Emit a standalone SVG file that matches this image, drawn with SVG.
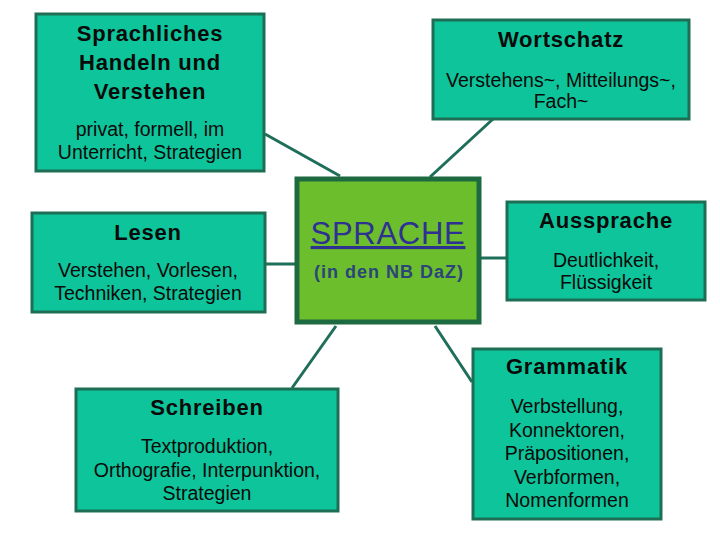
<svg xmlns="http://www.w3.org/2000/svg" width="720" height="540" viewBox="0 0 720 540">
<style>
.box{fill:#0ec49a;stroke:#1e6e55;stroke-width:3}
.center{fill:#6cbe2c;stroke:#1e6a40;stroke-width:5}
.t{font-family:"Liberation Sans",Arial,sans-serif;font-weight:bold;font-size:22px;letter-spacing:0.8px;fill:#0a0a0a;text-anchor:middle}
.s{font-family:"Liberation Sans",Arial,sans-serif;font-size:19.5px;fill:#0a0a0a;text-anchor:middle}
.conn line{stroke:#1e6e5a;stroke-width:3}
</style>
<rect width="720" height="540" fill="#fff"/>
<g id="connectors" class="conn">
<line x1="265" y1="134" x2="340" y2="176"/>
<line x1="493" y1="119" x2="430" y2="177"/>
<line x1="265" y1="264" x2="295" y2="264"/>
<line x1="481" y1="258" x2="507" y2="258"/>
<line x1="336" y1="326" x2="292" y2="388"/>
<line x1="435" y1="326" x2="472" y2="382"/>
</g>
<g id="sprachliches">
<rect class="box" x="36" y="14" width="228" height="157"/>
<text class="t" x="150" y="41">Sprachliches</text>
<text class="t" x="150" y="70">Handeln und</text>
<text class="t" x="150" y="99">Verstehen</text>
<text class="s" x="150" y="136">privat, formell, im</text>
<text class="s" x="150" y="159">Unterricht, Strategien</text>
</g>
<g id="wortschatz">
<rect class="box" x="433" y="20" width="256" height="99"/>
<text class="t" x="561" y="47">Wortschatz</text>
<text class="s" x="561" y="87">Verstehens~, Mitteilungs~,</text>
<text class="s" x="561" y="108">Fach~</text>
</g>
<g id="sprache">
<rect class="center" x="297" y="179" width="182" height="143"/>
<text x="388" y="244" font-family="Liberation Sans,Arial,sans-serif" font-size="31" letter-spacing="0.7" fill="#2e3192" text-anchor="middle" text-decoration="underline">SPRACHE</text>
<text x="389" y="278" font-family="Liberation Sans,Arial,sans-serif" font-weight="bold" font-size="18" letter-spacing="1" fill="#2b457a" text-anchor="middle">(in den NB DaZ)</text>
</g>
<g id="lesen">
<rect class="box" x="32" y="213" width="233" height="99"/>
<text class="t" x="148" y="240">Lesen</text>
<text class="s" x="148" y="277">Verstehen, Vorlesen,</text>
<text class="s" x="148" y="300">Techniken, Strategien</text>
</g>
<g id="aussprache">
<rect class="box" x="507" y="202" width="198" height="98"/>
<text class="t" x="606" y="228">Aussprache</text>
<text class="s" x="606" y="267">Deutlichkeit,</text>
<text class="s" x="606" y="289">Flüssigkeit</text>
</g>
<g id="schreiben">
<rect class="box" x="76" y="389" width="262" height="122"/>
<text class="t" x="207" y="415">Schreiben</text>
<text class="s" x="207" y="453">Textproduktion,</text>
<text class="s" x="207" y="477">Orthografie, Interpunktion,</text>
<text class="s" x="207" y="500">Strategien</text>
</g>
<g id="grammatik">
<rect class="box" x="473" y="349" width="188" height="170"/>
<text class="t" x="567" y="374">Grammatik</text>
<text class="s" x="567" y="413">Verbstellung,</text>
<text class="s" x="567" y="437">Konnektoren,</text>
<text class="s" x="567" y="460">Präpositionen,</text>
<text class="s" x="567" y="484">Verbformen,</text>
<text class="s" x="567" y="507">Nomenformen</text>
</g>
</svg>
